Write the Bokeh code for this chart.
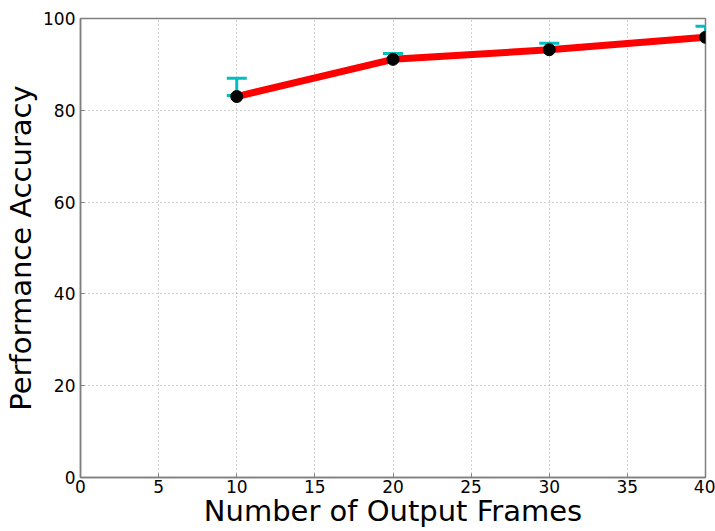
from bokeh.plotting import figure
from bokeh.models import Range1d, FixedTicker
from bokeh.embed import file_html
from bokeh.resources import INLINE

# Accuracy versus number of output frames
frames = [10, 20, 30, 40]
accuracy = [83.0, 91.1, 93.2, 95.9]
err_low = [83.2, 91.0, 93.1, 95.7]
err_high = [87.0, 92.4, 94.6, 98.3]

x_ticks = [0, 5, 10, 15, 20, 25, 30, 35, 40]
y_ticks = [0, 20, 40, 60, 80, 100]

FONT = "DejaVu Sans"

p = figure(width=715, height=531, output_backend="svg", toolbar_location=None,
           x_range=Range1d(0, 40), y_range=Range1d(0, 100),
           min_border_left=80, min_border_right=10,
           min_border_top=18, min_border_bottom=54)
p.background_fill_color = "white"
p.border_fill_color = "white"
p.outline_line_color = "#7f7f7f"
p.outline_line_width = 1.5

for ax in (p.xaxis[0], p.yaxis[0]):
    ax.axis_line_color = "#7f7f7f"
    ax.axis_line_width = 1.5
    ax.major_tick_line_color = "#7f7f7f"
    ax.major_tick_in = 4
    ax.major_tick_out = 0
    ax.minor_tick_line_color = None
    ax.major_label_text_font = FONT
    ax.major_label_text_font_size = "17px"
    ax.major_label_text_color = "black"
    ax.axis_label_text_font = FONT
    ax.axis_label_text_font_size = "29px"
    ax.axis_label_text_font_style = "normal"
    ax.axis_label_text_color = "black"

p.xaxis.ticker = FixedTicker(ticks=x_ticks)
p.yaxis.ticker = FixedTicker(ticks=y_ticks)
p.xaxis.axis_label = "Number of Output Frames"
p.yaxis.axis_label = "Performance Accuracy"
p.xaxis.major_label_standoff = 2
p.yaxis.major_label_standoff = 5
p.xaxis.axis_label_standoff = -2
p.yaxis.axis_label_standoff = 2

p.grid.grid_line_color = "#a0a0a0"
p.grid.grid_line_dash = "1 3"
p.grid.grid_line_width = 1

# error bars with caps
p.segment(x0=frames, y0=err_low, x1=frames, y1=err_high,
          line_color="#00bfbf", line_width=3)
p.scatter(x=frames + frames, y=err_low + err_high, marker="dash", size=20,
          line_color="#00bfbf", line_width=3)

# mean accuracy line and points
p.line(frames, accuracy, line_color="red", line_width=7)
p.scatter(frames, accuracy, size=12, fill_color="black", line_color="black")

open("out.html", "w").write(file_html(p, INLINE))
